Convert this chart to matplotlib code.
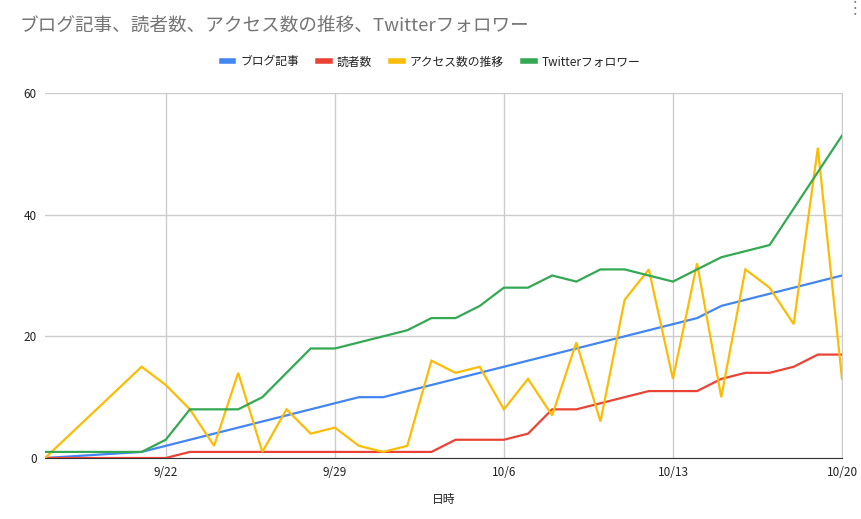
import numpy as np
import pandas as pd
import matplotlib
matplotlib.use("Agg")
from matplotlib import pyplot as plt
import matplotlib.dates as mdates

plt.rcParams['font.family'] = ['Noto Sans CJK JP', 'DejaVu Sans']

# 日付 (9/17 の次は 9/21 から毎日)
dates = pd.to_datetime(['2020-09-17'] + [d.strftime('%Y-%m-%d') for d in pd.date_range('2020-09-21', '2020-10-20')])

blog = [0, 1, 2, 3, 4, 5, 6, 7, 8, 9, 10, 10, 11, 12, 13, 14, 15, 16, 17, 18,
        19, 20, 21, 22, 23, 25, 26, 27, 28, 29, 30]
readers = [0, 0, 0, 1, 1, 1, 1, 1, 1, 1, 1, 1, 1, 1, 3, 3, 3, 4, 8, 8,
           9, 10, 11, 11, 11, 13, 14, 14, 15, 17, 17]
access = [0, 15, 12, 8, 2, 14, 1, 8, 4, 5, 2, 1, 2, 16, 14, 15, 8, 13, 7, 19,
          6, 26, 31, 13, 32, 10, 31, 28, 22, 51, 13]
twitter = [1, 1, 3, 8, 8, 8, 10, 14, 18, 18, 19, 20, 21, 23, 23, 25, 28, 28, 30, 29,
           31, 31, 30, 29, 31, 33, 34, 35, 41, 47, 53]

labels = ['ブログ記事', '読者数', 'アクセス数の推移', 'Twitterフォロワー']
colors = ['#4285F4', '#EA4335', '#FBBC04', '#34A853']
tick_dates = pd.to_datetime(['2020-09-22', '2020-09-29', '2020-10-06', '2020-10-13', '2020-10-20'])
tick_labels = ['9/22', '9/29', '10/6', '10/13', '10/20']

fig = plt.figure(figsize=(8.62, 5.19), dpi=100)
# 描画領域の位置 (ピクセルから計算)
ax = fig.add_axes([45/862, 1 - 458/519, (842-45)/862, (458-93)/519])

for vals, lab, c in zip([blog, readers, access, twitter], labels, colors):
    ax.plot(dates, vals, color=c, lw=1.6, label=lab, solid_joinstyle='miter', zorder=3)

ax.set_xlim(dates[0], dates[-1])
ax.set_ylim(0, 60)
ax.set_yticks([0, 20, 40, 60])
ax.set_xticks(tick_dates)
ax.set_xticklabels(tick_labels)
ax.grid(True, color='#cccccc', lw=1)
ax.tick_params(length=0, labelsize=8.5, colors='#222222', pad=6)
for s in ['left', 'top']:
    ax.spines[s].set_visible(False)
ax.spines['right'].set_color('#cccccc')
ax.spines['bottom'].set_color('#333333')
ax.set_xlabel('日時', fontsize=8.5, color='#222222', labelpad=10)

fig.text(20/862, 1 - 27/519, 'ブログ記事、読者数、アクセス数の推移、Twitterフォロワー',
         fontsize=13.4, color='#757575', va='center', ha='left')
fig.text(855/862, 1 - 8/519, '⋮', fontsize=12, color='#888888', ha='center', va='center',
         family=['DejaVu Sans'])

leg = fig.legend(loc='center', bbox_to_anchor=(431/862, 1 - 62/519), ncol=4, frameon=False,
                 fontsize=8.5, handlelength=1.0, handletextpad=0.6, columnspacing=1.6)
for h in leg.get_lines():
    h.set_linewidth(4)
for t in leg.get_texts():
    t.set_color('#222222')

fig.savefig('out.png', dpi=100)
